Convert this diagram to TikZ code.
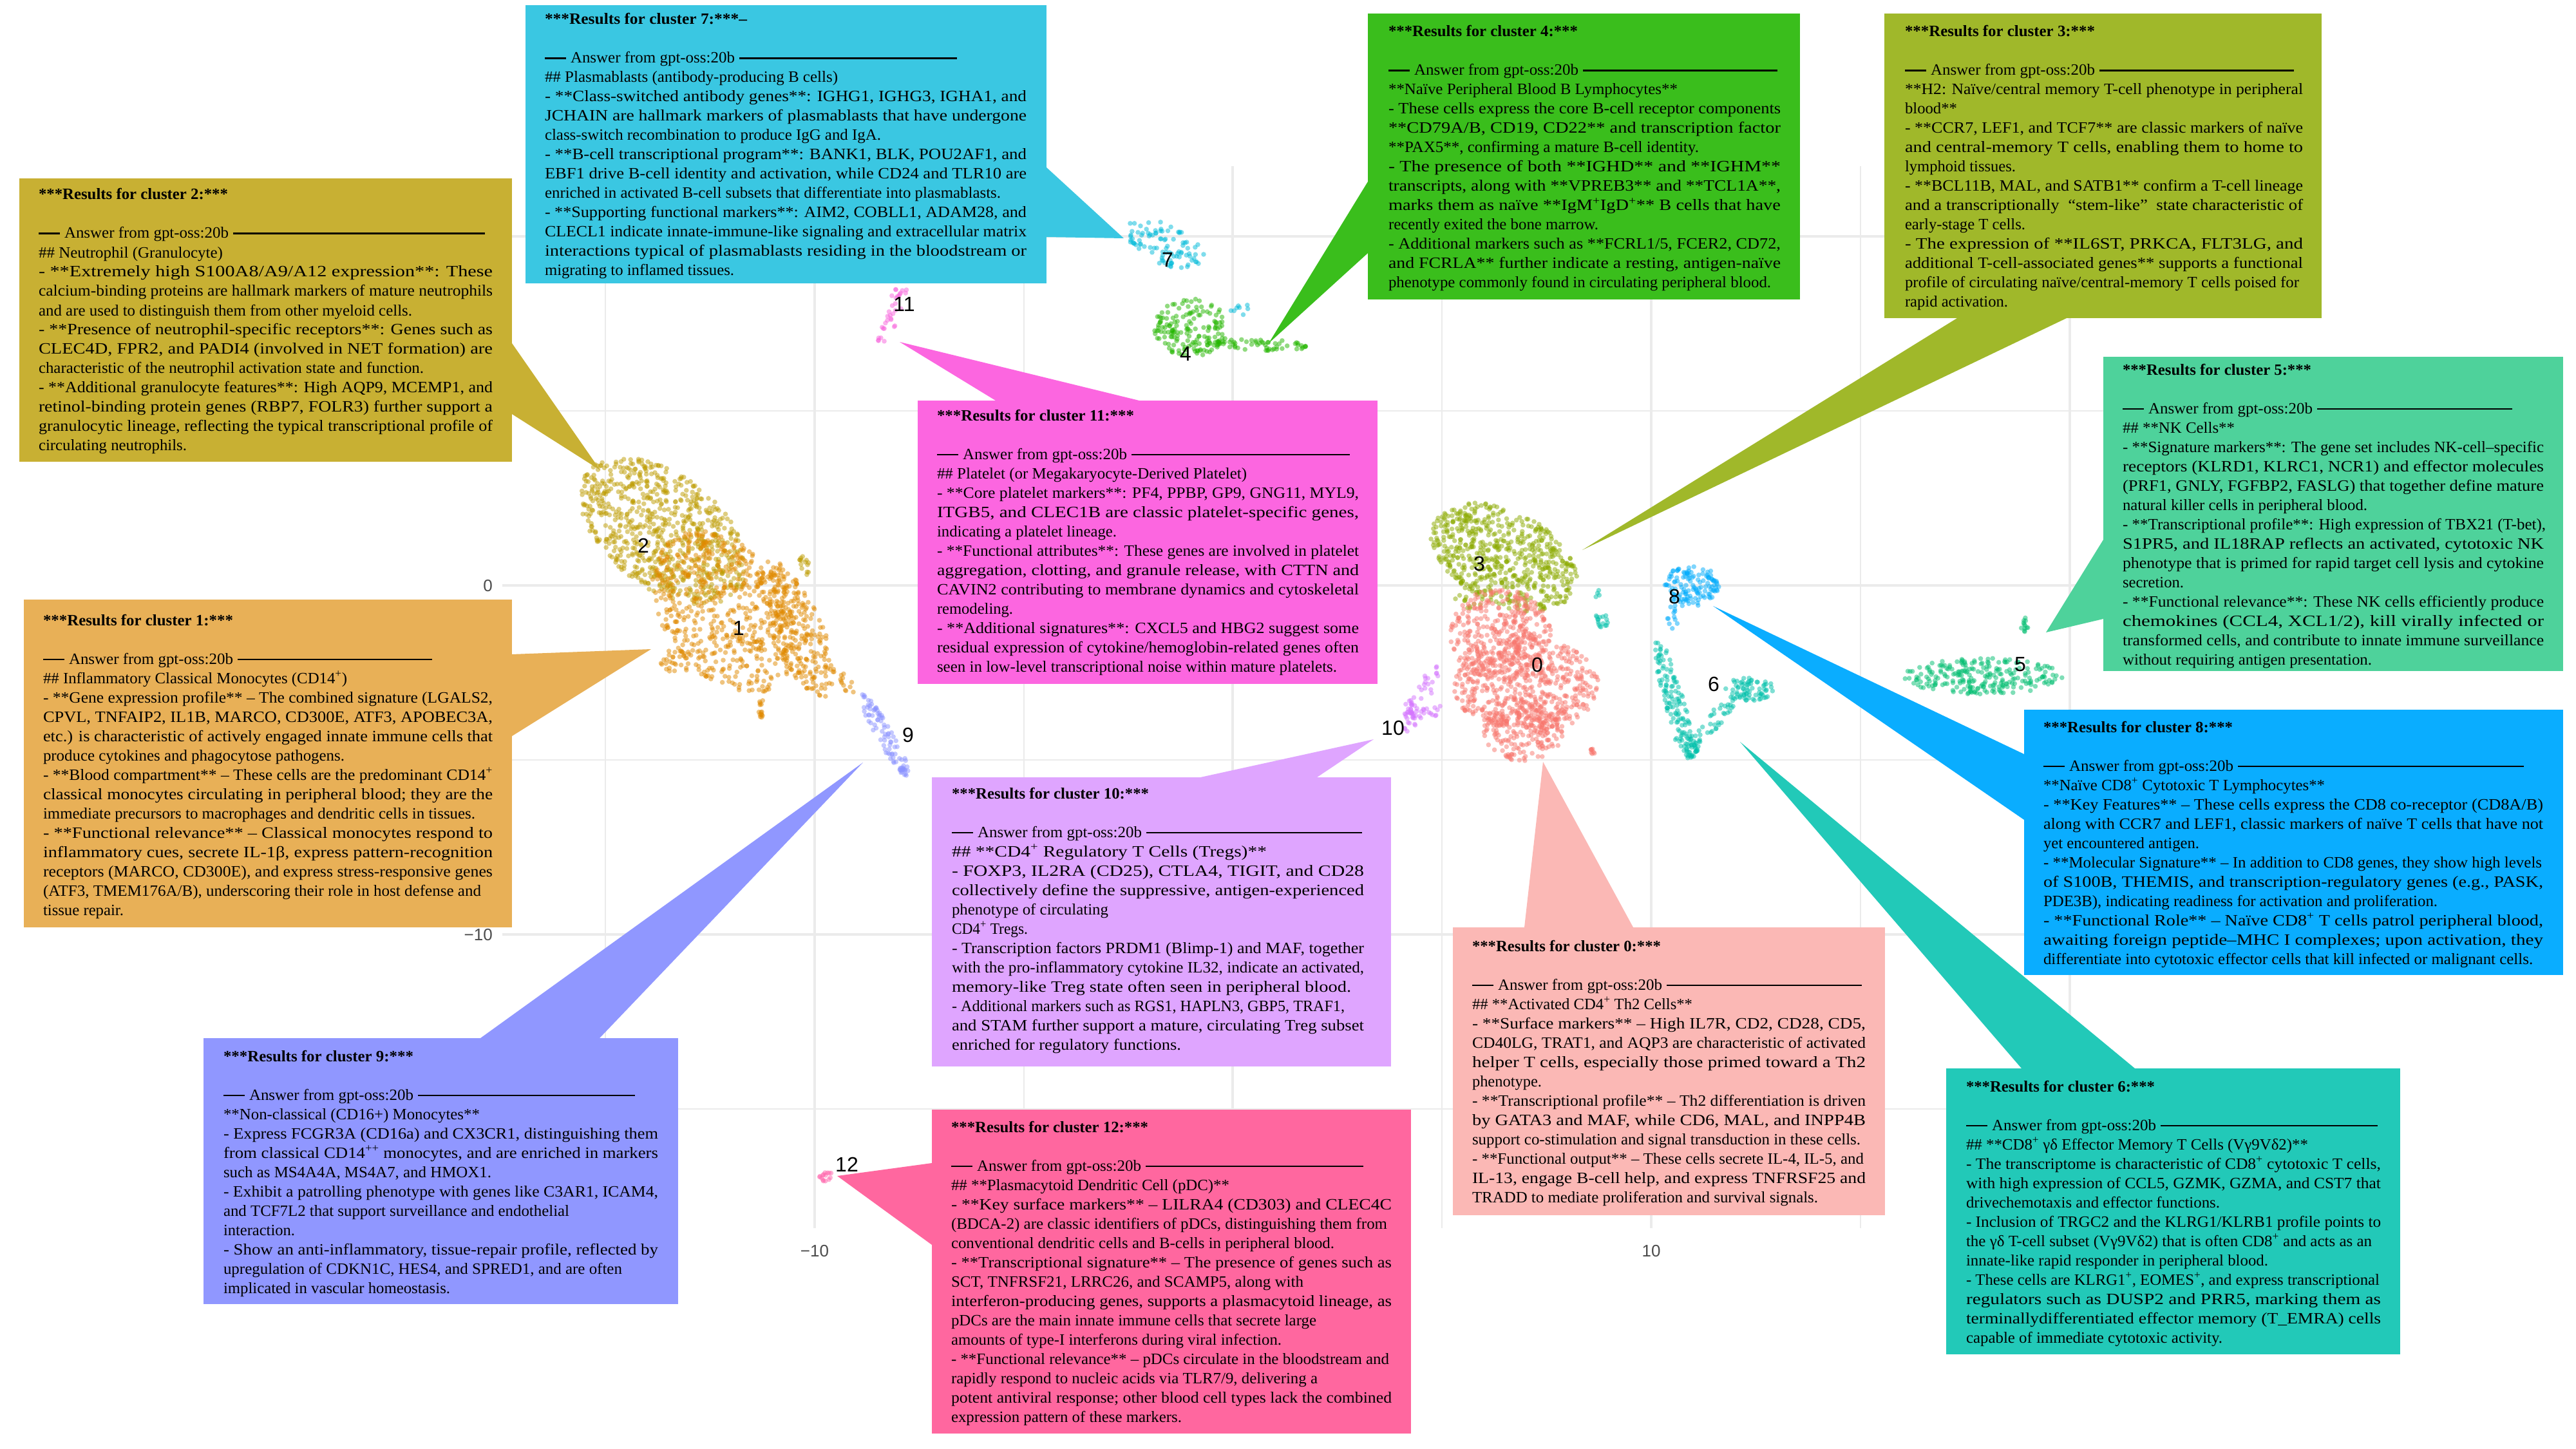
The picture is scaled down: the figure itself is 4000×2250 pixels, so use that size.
\documentclass[tikz,border=0pt]{standalone}
\usepackage{fontspec}
\usepackage{graphicx}
\setmainfont{Liberation Serif}
\newfontfamily\sansf{Liberation Sans}
\definecolor{gridc}{HTML}{EBEBEB}
\definecolor{k0}{HTML}{F8766D}\definecolor{k1}{HTML}{E18A00}\definecolor{k2}{HTML}{BE9C00}
\definecolor{k3}{HTML}{8CAB00}\definecolor{k4}{HTML}{24B700}\definecolor{k5}{HTML}{00BE70}
\definecolor{k6}{HTML}{00C1AB}\definecolor{k7}{HTML}{00BBDA}\definecolor{k8}{HTML}{00ACFC}
\definecolor{k9}{HTML}{8B93FF}\definecolor{k10}{HTML}{D575FE}\definecolor{k11}{HTML}{F962DD}
\definecolor{k12}{HTML}{FF65AC}
\definecolor{b0}{HTML}{FBB8B5}\definecolor{b1}{HTML}{E8B057}\definecolor{b2}{HTML}{C8B033}
\definecolor{b3}{HTML}{A0B82A}\definecolor{b4}{HTML}{3ABE1C}\definecolor{b5}{HTML}{4ED29B}
\definecolor{b6}{HTML}{22C9B8}\definecolor{b7}{HTML}{3AC7E2}\definecolor{b8}{HTML}{0AADFF}
\definecolor{b9}{HTML}{9097FF}\definecolor{b10}{HTML}{DFA5FF}\definecolor{b11}{HTML}{FC66E0}
\definecolor{b12}{HTML}{FF679F}
\newdimen\tw
\newcommand\sps{\textsuperscript{+}}
\newcommand\lnE{\hbox{}}
\newcommand\lnN[1]{\hbox{#1}}
\newcommand\lnJ[1]{\hbox{\resizebox{\tw}{\height}{#1}}}
\newcommand\lnW[2]{\hbox{\resizebox{#1pt}{\height}{#2}}}
\newcommand\lnT[2]{\lnW{#1}{\bfseries ***Results for cluster #2:***}\lnE}
\newcommand\lnA[1]{\hbox to #1pt{\vrule width 33pt height 8.5pt depth -6pt\hskip 7pt\resizebox{255pt}{\height}{Answer from gpt-oss:20b}\hskip 7pt\leaders\hrule height 8.5pt depth -6pt\hfill}}
% id, rectangle, apex, base1, base2
\newcommand\panelbox[5]{%
  \fill[b#1] #3 -- #4 -- #5 -- cycle;
  \fill[b#1] #2;}
% id, position, width, lines
\newcommand\paneltext[4]{%
  \tw=#3pt
  \node[paneltxt] (t#1) at #2 {\vtop{\hsize=#3pt\baselineskip=30pt\lineskiplimit=-100pt\lineskip=0pt #4}};}
% colour, cx, cy, rx, ry, angle, n
\newcommand\cloud[7]{%
  \foreach \ci in {1,...,#7}{%
    \pgfmathsetmacro\cR{sqrt(rnd)}%
    \pgfmathsetmacro\cT{360*rnd}%
    \pgfmathsetmacro\cU{#4*\cR*cos(\cT)}%
    \pgfmathsetmacro\cV{#5*\cR*sin(\cT)}%
    \pgfmathsetmacro\cX{#2+\cU*cos(#6)-\cV*sin(#6)}%
    \pgfmathsetmacro\cY{#3+\cU*sin(#6)+\cV*cos(#6)}%
    \fill[#1,fill opacity=.5] (\cX,\cY) circle[radius=3.8];
  }}
\tikzset{
  paneltxt/.style={inner sep=0pt,outer sep=0pt,anchor=base west,font=\fontsize{24.5}{30}\selectfont},
  major/.style={gridc,line width=3.5pt},
  minor/.style={gridc,line width=2pt},
  clabel/.style={inner sep=0pt,font=\sansf\fontsize{32}{32}\selectfont},
  tick/.style={inner sep=0pt,text=black!70,font=\sansf\fontsize{26}{26}\selectfont}
}
\begin{document}
\begin{tikzpicture}[x=1pt,y=-1pt]
\useasboundingbox (0,0) rectangle (4000,2250);
\fill[white] (0,0) rectangle (4000,2250);
% grid
\foreach \gy in {638,1180,1722} \draw[minor] (780,\gy) -- (3340,\gy);
\foreach \gx in {940,1590,2239,2889} \draw[minor] (\gx,258) -- (\gx,1907);
\foreach \gy in {367,909,1451} \draw[major] (780,\gy) -- (3340,\gy);
\foreach \gx in {1265,1914,2564,3214} \draw[major] (\gx,258) -- (\gx,1907);
\node[tick,anchor=east] (ytick0) at (765,910) {0};
\node[tick,anchor=east] (ytickm10) at (765,1452) {−10};
\node[tick] (xtickm10) at (1265,1943) {−10};
\node[tick] (xtick10) at (2564,1943) {10};
% points
\pgfmathsetseed{4217}
\cloud{k2}{1030}{825}{150}{88}{38}{760}
\cloud{k2}{1249}{875}{7}{18}{-15}{14}
\cloud{k1}{1125}{950}{140}{95}{55}{560}
\cloud{k1}{1235}{975}{118}{40}{65}{300}
\cloud{k1}{1048}{1030}{22}{22}{0}{30}
\cloud{k1}{1182}{1098}{4}{20}{0}{14}
\cloud{k1}{1315}{1062}{18}{8}{65}{12}
\cloud{k9}{1372}{1139}{74}{13}{60}{80}
\cloud{k9}{1403}{1197}{9}{7}{60}{14}
\cloud{k3}{2335}{865}{122}{72}{27}{620}
\cloud{k3}{2282}{925}{28}{22}{0}{20}
\cloud{k0}{2330}{985}{78}{72}{0}{360}
\cloud{k0}{2370}{1065}{112}{75}{0}{540}
\cloud{k0}{2365}{1135}{62}{47}{0}{190}
\cloud{k0}{2476}{1167}{8}{6}{0}{8}
\cloud{k10}{2208}{1085}{58}{14}{-65}{40}
\cloud{k10}{2190}{1105}{13}{18}{0}{24}
\cloud{k10}{2230}{1103}{12}{10}{0}{8}
\cloud{k8}{2627}{910}{42}{33}{0}{130}
\cloud{k8}{2597}{957}{9}{20}{0}{12}
\cloud{k6}{2600}{1090}{100}{17}{75}{120}
\cloud{k6}{2627}{1160}{12}{22}{10}{40}
\cloud{k6}{2715}{1070}{40}{18}{0}{70}
\cloud{k6}{2665}{1115}{52}{12}{-50}{36}
\cloud{k6}{2487}{963}{14}{10}{35}{16}
\cloud{k6}{2480}{930}{6}{18}{0}{4}
\cloud{k5}{3080}{1050}{123}{28}{0}{240}
\cloud{k5}{3144}{970}{7}{12}{0}{12}
\cloud{k7}{1810}{380}{66}{32}{25}{95}
\cloud{k7}{1925}{480}{14}{12}{0}{8}
\cloud{k4}{1850}{510}{58}{46}{0}{160}
\cloud{k4}{1955}{535}{78}{9}{2}{60}
\cloud{k11}{1385}{495}{52}{9}{115}{25}
\cloud{k11}{1392}{456}{9}{9}{0}{8}
\cloud{k12}{1282}{1827}{12}{8}{0}{15}
% cluster labels
\node[clabel] (c0) at (2387,1032) {0};
\node[clabel] (c1) at (1147,975) {1};
\node[clabel] (c2) at (999,847) {2};
\node[clabel] (c3) at (2297,875) {3};
\node[clabel] (c4) at (1841,549) {4};
\node[clabel] (c5) at (3137,1032) {5};
\node[clabel] (c6) at (2661,1062) {6};
\node[clabel] (c7) at (1813,403) {7};
\node[clabel] (c8) at (2600,926) {8};
\node[clabel] (c9) at (1410,1141) {9};
\node[clabel] (c10) at (2163,1130) {10};
\node[clabel] (c11) at (1404,472) {11};
\node[clabel] (c12) at (1315,1808) {12};
% panels and wedges
\panelbox{2}{(30,277) rectangle (795,717)}{(932,730)}{(795,533)}{(795,643)}
\panelbox{7}{(816,8) rectangle (1625,440)}{(1745,370)}{(1625,260)}{(1625,368)}
\panelbox{4}{(2124,21) rectangle (2795,465)}{(1970,533)}{(2124,282)}{(2124,393)}
\panelbox{3}{(2926,21) rectangle (3605,494)}{(2457,854)}{(3039,494)}{(3209,494)}
\panelbox{5}{(3266,554) rectangle (3980,1042)}{(3177,982)}{(3266,838)}{(3266,961)}
\panelbox{11}{(1425,622) rectangle (2139,1062)}{(1397,531)}{(1546,622)}{(1769,622)}
\panelbox{1}{(37,931) rectangle (795,1440)}{(1011,1008)}{(795,1016)}{(795,1143)}
\panelbox{10}{(1447,1207) rectangle (2160,1656)}{(2133,1148)}{(1864,1207)}{(2045,1207)}
\panelbox{0}{(2256,1440) rectangle (2927,1887)}{(2396,1183)}{(2367,1440)}{(2536,1440)}
\panelbox{8}{(3143,1102) rectangle (3980,1514)}{(2660,941)}{(3143,1171)}{(3143,1273)}
\panelbox{6}{(3022,1659) rectangle (3727,2103)}{(2702,1152)}{(3139,1659)}{(3315,1659)}
\panelbox{9}{(316,1612) rectangle (1053,2025)}{(1340,1184)}{(746,1612)}{(931,1612)}
\panelbox{12}{(1447,1723) rectangle (2191,2226)}{(1300,1826)}{(1447,1806)}{(1447,1933)}
% panel texts
\paneltext{2}{(60,310)}{705}{\lnT{294}{2}\lnA{693}
\lnW{286}{\#\# Neutrophil (Granulocyte)}
\lnJ{- **Extremely high S100A8/A9/A12 expression**: These}
\lnJ{calcium-binding proteins are hallmark markers of mature neutrophils}
\lnW{580}{and are used to distinguish them from other myeloid cells.}
\lnJ{- **Presence of neutrophil-specific receptors**: Genes such as}
\lnJ{CLEC4D, FPR2, and PADI4 (involved in NET formation) are}
\lnW{598}{characteristic of the neutrophil activation state and function.}
\lnJ{- **Additional granulocyte features**: High AQP9, MCEMP1, and}
\lnJ{retinol-binding protein genes (RBP7, FOLR3) further support a}
\lnJ{granulocytic lineage, reflecting the typical transcriptional profile of}
\lnW{230}{circulating neutrophils.}}
\paneltext{7}{(846,38)}{748}{\lnW{314}{\bfseries ***Results for cluster 7:***–}\lnE\lnA{640}
\lnW{455}{\#\# Plasmablasts (antibody-producing B cells)}
\lnJ{- **Class-switched antibody genes**: IGHG1, IGHG3, IGHA1, and}
\lnJ{JCHAIN are hallmark markers of plasmablasts that have undergone}
\lnW{522}{class-switch recombination to produce IgG and IgA.}
\lnJ{- **B-cell transcriptional program**: BANK1, BLK, POU2AF1, and}
\lnJ{EBF1 drive B-cell identity and activation, while CD24 and TLR10 are}
\lnW{708}{enriched in activated B-cell subsets that differentiate into plasmablasts.}
\lnJ{- **Supporting functional markers**: AIM2, COBLL1, ADAM28, and}
\lnJ{CLECL1 indicate innate-immune-like signaling and extracellular matrix}
\lnJ{interactions typical of plasmablasts residing in the bloodstream or}
\lnW{294}{migrating to inflamed tissues.}}
\paneltext{4}{(2156,57)}{609}{\lnT{294}{4}\lnA{604}
\lnW{449}{**Naïve Peripheral Blood B Lymphocytes**}
\lnJ{- These cells express the core B-cell receptor components}
\lnJ{**CD79A/B, CD19, CD22** and transcription factor}
\lnW{482}{**PAX5**, confirming a mature B-cell identity.}
\lnJ{- The presence of both **IGHD** and **IGHM**}
\lnJ{transcripts, along with **VPREB3** and **TCL1A**,}
\lnJ{marks them as naïve **IgM\sps IgD\sps** B cells that have}
\lnW{326}{recently exited the bone marrow.}
\lnJ{- Additional markers such as **FCRL1/5, FCER2, CD72,}
\lnJ{and FCRLA** further indicate a resting, antigen-naïve}
\lnW{594}{phenotype commonly found in circulating peripheral blood.}}
\paneltext{3}{(2958,57)}{618}{\lnT{295}{3}\lnA{604}
\lnJ{**H2: Naïve/central memory T-cell phenotype in peripheral}
\lnW{81}{blood**}
\lnJ{- **CCR7, LEF1, and TCF7** are classic markers of naïve}
\lnJ{and central-memory T cells, enabling them to home to}
\lnW{172}{lymphoid tissues.}
\lnJ{- **BCL11B, MAL, and SATB1** confirm a T-cell lineage}
\lnJ{and a transcriptionally\ \ “stem-like”\ \ state characteristic of}
\lnW{187}{early-stage T cells.}
\lnJ{- The expression of **IL6ST, PRKCA, FLT3LG, and}
\lnJ{additional T-cell-associated genes** supports a functional}
\lnW{612}{profile of circulating naïve/central-memory T cells poised for}
\lnW{160}{rapid activation.}}
\paneltext{5}{(3296,582)}{654}{\lnT{293}{5}\lnA{605}
\lnW{174}{\#\# **NK Cells**}
\lnJ{- **Signature markers**: The gene set includes NK-cell–specific}
\lnJ{receptors (KLRD1, KLRC1, NCR1) and effector molecules}
\lnJ{(PRF1, GNLY, FGFBP2, FASLG) that together define mature}
\lnW{380}{natural killer cells in peripheral blood.}
\lnW{657}{- **Transcriptional profile**: High expression of TBX21 (T-bet),}
\lnJ{S1PR5, and IL18RAP reflects an activated, cytotoxic NK}
\lnJ{phenotype that is primed for rapid target cell lysis and cytokine}
\lnW{95}{secretion.}
\lnJ{- **Functional relevance**: These NK cells efficiently produce}
\lnJ{chemokines (CCL4, XCL1/2), kill virally infected or}
\lnJ{transformed cells, and contribute to innate immune surveillance}
\lnW{387}{without requiring antigen presentation.}}
\paneltext{11}{(1455,653)}{655}{\lnT{306}{11}\lnA{641}
\lnW{481}{\#\# Platelet (or Megakaryocyte-Derived Platelet)}
\lnJ{- **Core platelet markers**: PF4, PPBP, GP9, GNG11, MYL9,}
\lnJ{ITGB5, and CLEC1B are classic platelet-specific genes,}
\lnW{279}{indicating a platelet lineage.}
\lnJ{- **Functional attributes**: These genes are involved in platelet}
\lnJ{aggregation, clotting, and granule release, with CTTN and}
\lnJ{CAVIN2 contributing to membrane dynamics and cytoskeletal}
\lnW{118}{remodeling.}
\lnJ{- **Additional signatures**: CXCL5 and HBG2 suggest some}
\lnJ{residual expression of cytokine/hemoglobin-related genes often}
\lnW{621}{seen in low-level transcriptional noise within mature platelets.}}
\paneltext{1}{(67,971)}{698}{\lnT{295}{1}\lnA{604}
\lnW{472}{\#\# Inflammatory Classical Monocytes (CD14\sps)}
\lnJ{- **Gene expression profile** – The combined signature (LGALS2,}
\lnJ{CPVL, TNFAIP2, IL1B, MARCO, CD300E, ATF3, APOBEC3A,}
\lnJ{etc.) is characteristic of actively engaged innate immune cells that}
\lnW{468}{produce cytokines and phagocytose pathogens.}
\lnJ{- **Blood compartment** – These cells are the predominant CD14\sps}
\lnJ{classical monocytes circulating in peripheral blood; they are the}
\lnW{671}{immediate precursors to macrophages and dendritic cells in tissues.}
\lnJ{- **Functional relevance** – Classical monocytes respond to}
\lnJ{inflammatory cues, secrete IL-1β, express pattern-recognition}
\lnJ{receptors (MARCO, CD300E), and express stress-responsive genes}
\lnW{680}{(ATF3, TMEM176A/B), underscoring their role in host defense and}
\lnW{125}{tissue repair.}}
\paneltext{10}{(1478,1240)}{640}{\lnT{306}{10}\lnA{637}
\lnW{489}{\#\# **CD4\sps\ Regulatory T Cells (Tregs)**}
\lnJ{- FOXP3, IL2RA (CD25), CTLA4, TIGIT, and CD28}
\lnJ{collectively define the suppressive, antigen-experienced}
\lnW{243}{phenotype of circulating}
\lnW{118}{CD4\sps\ Tregs.}
\lnJ{- Transcription factors PRDM1 (Blimp-1) and MAF, together}
\lnJ{with the pro-inflammatory cytokine IL32, indicate an activated,}
\lnW{620}{memory-like Treg state often seen in peripheral blood.}
\lnW{610}{- Additional markers such as RGS1, HAPLN3, GBP5, TRAF1,}
\lnJ{and STAM further support a mature, circulating Treg subset}
\lnW{356}{enriched for regulatory functions.}}
\paneltext{0}{(2286,1477)}{611}{\lnT{293}{0}\lnA{605}
\lnW{342}{\#\# **Activated CD4\sps\ Th2 Cells**}
\lnJ{- **Surface markers** – High IL7R, CD2, CD28, CD5,}
\lnJ{CD40LG, TRAT1, and AQP3 are characteristic of activated}
\lnJ{helper T cells, especially those primed toward a Th2}
\lnW{108}{phenotype.}
\lnJ{- **Transcriptional profile** – Th2 differentiation is driven}
\lnJ{by GATA3 and MAF, while CD6, MAL, and INPP4B}
\lnW{603}{support co-stimulation and signal transduction in these cells.}
\lnW{608}{- **Functional output** – These cells secrete IL-4, IL-5, and}
\lnJ{IL-13, engage B-cell help, and express TNFRSF25 and}
\lnW{537}{TRADD to mediate proliferation and survival signals.}}
\paneltext{8}{(3173,1137)}{776}{\lnT{294}{8}\lnA{746}
\lnW{437}{**Naïve CD8\sps\ Cytotoxic T Lymphocytes**}
\lnJ{- **Key Features** – These cells express the CD8 co-receptor (CD8A/B)}
\lnJ{along with CCR7 and LEF1, classic markers of naïve T cells that have not}
\lnW{242}{yet encountered antigen.}
\lnW{774}{- **Molecular Signature** – In addition to CD8 genes, they show high levels}
\lnJ{of S100B, THEMIS, and transcription-regulatory genes (e.g., PASK,}
\lnW{612}{PDE3B), indicating readiness for activation and proliferation.}
\lnJ{- **Functional Role** – Naïve CD8\sps\ T cells patrol peripheral blood,}
\lnJ{awaiting foreign peptide–MHC I complexes; upon activation, they}
\lnW{760}{differentiate into cytotoxic effector cells that kill infected or malignant cells.}}
\paneltext{6}{(3053,1695)}{644}{\lnT{293}{6}\lnA{639}
\lnW{531}{\#\# **CD8\sps\ γδ Effector Memory T Cells (Vγ9Vδ2)**}
\lnJ{- The transcriptome is characteristic of CD8\sps\ cytotoxic T cells,}
\lnJ{with high expression of CCL5, GZMK, GZMA, and CST7 that}
\lnW{394}{drivechemotaxis and effector functions.}
\lnJ{- Inclusion of TRGC2 and the KLRG1/KLRB1 profile points to}
\lnW{630}{the γδ T-cell subset (Vγ9Vδ2) that is often CD8\sps\ and acts as an}
\lnW{469}{innate-like rapid responder in peripheral blood.}
\lnW{642}{- These cells are KLRG1\sps, EOMES\sps, and express transcriptional}
\lnJ{regulators such as DUSP2 and PRR5, marking them as}
\lnJ{terminallydifferentiated effector memory (T\_EMRA) cells}
\lnW{398}{capable of immediate cytotoxic activity.}}
\paneltext{9}{(347,1648)}{675}{\lnT{295}{9}\lnA{639}
\lnW{398}{**Non-classical (CD16+) Monocytes**}
\lnJ{- Express FCGR3A (CD16a) and CX3CR1, distinguishing them}
\lnJ{from classical CD14\textsuperscript{++} monocytes, and are enriched in markers}
\lnW{416}{such as MS4A4A, MS4A7, and HMOX1.}
\lnJ{- Exhibit a patrolling phenotype with genes like C3AR1, ICAM4,}
\lnW{537}{and TCF7L2 that support surveillance and endothelial}
\lnW{111}{interaction.}
\lnJ{- Show an anti-inflammatory, tissue-repair profile, reflected by}
\lnW{619}{upregulation of CDKN1C, HES4, and SPRED1, and are often}
\lnW{352}{implicated in vascular homeostasis.}}
\paneltext{12}{(1477,1758)}{684}{\lnT{306}{12}\lnA{640}
\lnW{432}{\#\# **Plasmacytoid Dendritic Cell (pDC)**}
\lnJ{- **Key surface markers** – LILRA4 (CD303) and CLEC4C}
\lnW{677}{(BDCA-2) are classic identifiers of pDCs, distinguishing them from}
\lnW{595}{conventional dendritic cells and B-cells in peripheral blood.}
\lnJ{- **Transcriptional signature** – The presence of genes such as}
\lnW{547}{SCT, TNFRSF21, LRRC26, and SCAMP5, along with}
\lnJ{interferon-producing genes, supports a plasmacytoid lineage, as}
\lnW{567}{pDCs are the main innate immune cells that secrete large}
\lnW{513}{amounts of type-I interferons during viral infection.}
\lnW{680}{- **Functional relevance** – pDCs circulate in the bloodstream and}
\lnW{569}{rapidly respond to nucleic acids via TLR7/9, delivering a}
\lnJ{potent antiviral response; other blood cell types lack the combined}
\lnW{358}{expression pattern of these markers.}}
\end{tikzpicture}
\end{document}
